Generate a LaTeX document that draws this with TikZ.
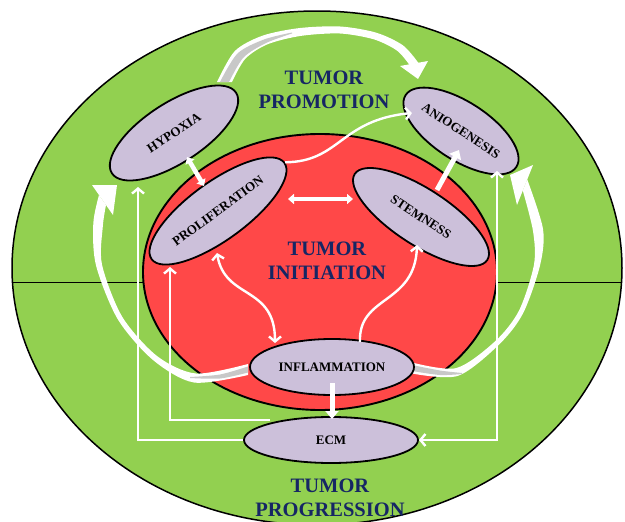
\documentclass[tikz,border=0pt]{standalone}
\usepackage{fontspec}
\setmainfont{Liberation Serif}
\usetikzlibrary{arrows.meta,shapes.geometric}
\definecolor{bggreen}{RGB}{146,208,80}
\definecolor{tumred}{RGB}{255,72,72}
\definecolor{lav}{RGB}{204,192,218}
\definecolor{navy}{RGB}{22,38,100}
\definecolor{bandgrey}{RGB}{200,200,200}
\begin{document}
\begin{tikzpicture}[x=1pt,y=-1pt,
  proc/.style={ellipse, draw=black, line width=1.8pt, fill=lav, inner sep=0pt,
    font=\bfseries\fontsize{13}{14}\selectfont, text=black},
  biglabel/.style={font=\bfseries\fontsize{20.5}{24}\selectfont, text=navy, align=center},
  thinarrow/.style={draw=white, line width=2.4pt, -{Straight Barb[length=5pt,width=12pt]}},
  thinboth/.style={draw=white, line width=2.4pt, {Straight Barb[length=5pt,width=12pt]}-{Straight Barb[length=5pt,width=12pt]}},
  thickarrow/.style={draw=white, line width=5pt, -{Triangle[length=8pt,width=13pt]}},
  thickboth/.style={draw=white, line width=4.5pt, {Triangle[length=6pt,width=10pt]}-{Triangle[length=6pt,width=10pt]}},
  blockarrow/.style={fill=white},
  blockgrey/.style={fill=bandgrey}
]
\useasboundingbox (0,0) rectangle (625,522);
% regions
\draw[fill=bggreen, line width=1.5pt] (317,268) ellipse [x radius=305pt, y radius=257pt];
\draw[line width=1pt] (12,282) -- (622,282);
\draw[fill=tumred, line width=1.9pt] (320,272) ellipse [x radius=177pt, y radius=138pt];

% top block arrow (hypoxia -> aniogenesis)
\fill[blockarrow] plot[smooth] coordinates {(217,82) (234.8,51.1) (262.5,35.7) (299.2,28.1) (340.2,26.5) (376.3,32.7) (403,45.4) (418.4,62.9)}
  -- plot[smooth] coordinates {(409.6,65.1) (397,50.6) (373.7,39.3) (339.8,33.5) (300.8,35.9) (267.5,44.3) (245.2,58.9) (232,82)} -- cycle;
\fill[blockarrow] (400,66) -- (428,61) -- (418,79) -- cycle;
\fill[blockgrey] plot[smooth] coordinates {(220,82) (237.5,53.5) (264,39.5) (292,32.5)}
  -- plot[smooth] coordinates {(292,33.5) (266,43) (243.5,57.5) (229,82)} -- cycle;

% left block arrow (inflammation -> hypoxia)
\fill[blockarrow] plot[smooth] coordinates {(248,375) (194,382.5) (153,360) (117.8,319.3) (96,265.4) (93.3,223.5) (99,195)}
  -- plot[smooth] coordinates {(106,205) (102.8,226.5) (102,264.6) (122.2,316.7) (157,356) (196,373.5) (248,364)} -- cycle;
\fill[blockarrow] (92,185) -- (117,185) -- (113,215) -- cycle;
\fill[blockgrey] plot[smooth] coordinates {(248,372.5) (220,378.5) (190,378)}
  -- plot[smooth] coordinates {(190,377) (220,374.5) (248,366.5)} -- cycle;

% right block arrow (inflammation -> aniogenesis)
\fill[blockarrow] plot[smooth] coordinates {(412,373.5) (457.8,375.9) (498.8,344.8) (523,313.4) (540,265.5) (543,229) (527.2,179.4)}
  -- plot[smooth] coordinates {(522.8,190.6) (533,231) (534,264.5) (519,310.6) (495.2,341.2) (456.2,368.1) (412,362.5)} -- cycle;
\fill[blockarrow] (510,175) -- (533,165) -- (517,205) -- cycle;
\fill[blockgrey] plot[smooth] coordinates {(412,371) (440,375) (462,374)}
  -- plot[smooth] coordinates {(462,373) (440,370.5) (412,365)} -- cycle;

% processes
\node[proc, minimum width=148pt, minimum height=60pt, rotate=33] (hyp) at (174,133) {HYPOXIA};
\node[proc, minimum width=132pt, minimum height=58pt, rotate=-33] (anio) at (461,131) {ANIOGENESIS};
\node[proc, minimum width=164pt, minimum height=58pt, rotate=36] (prol) at (218,211) {PROLIFERATION};
\node[proc, minimum width=158pt, minimum height=56pt, rotate=-33] (stem) at (421,217) {STEMNESS};
\node[proc, minimum width=164pt, minimum height=56pt] (infl) at (332,367) {INFLAMMATION};
\node[proc, minimum width=174pt, minimum height=46pt] (ecm) at (331,440) {ECM};

% labels
\node[biglabel] (promo) at (324,90) {TUMOR\\PROMOTION};
\node[biglabel] (init) at (327,261) {TUMOR\\INITIATION};
\node[biglabel] (prog) at (330,498) {TUMOR\\PROGRESSION};

% free ends of connectors
\coordinate (hb) at (138,187);
\coordinate (pb) at (170,267);
\coordinate (ab) at (497,171);
\coordinate (e1) at (270,420);
\coordinate (at) at (412,113);
\coordinate (pw) at (217,253);
\coordinate (iw) at (275,343);
\coordinate (is) at (360,342);
\coordinate (sb) at (417,245);

% thin connectors
\draw[thinarrow] (ecm.west) -| (hb);
\draw[thinarrow] (e1) -| (pb);
\draw[thinboth] (ecm.east) -| (ab);
\draw[thinarrow] (prol.east) .. controls (340,162) and (340,120) .. (at);
\draw[thinboth] (pw) .. controls (225,300) and (275,285) .. (iw);
\draw[thinarrow] (is) .. controls (358,295) and (415,305) .. (sb);

% thick short arrows
\coordinate (h1) at (187,157);
\coordinate (p1) at (204,186);
\coordinate (p2) at (288,199);
\coordinate (s2) at (353,199);
\coordinate (s3) at (437,190);
\coordinate (a3) at (459,150);
\coordinate (i4) at (332,383);
\coordinate (e4) at (332,419);
\draw[thickboth] (h1) -- (p1);
\draw[thickboth] (p2) -- (s2);
\draw[thickarrow] (s3) -- (a3);
\draw[thickarrow] (i4) -- (e4);
\end{tikzpicture}
\end{document}
